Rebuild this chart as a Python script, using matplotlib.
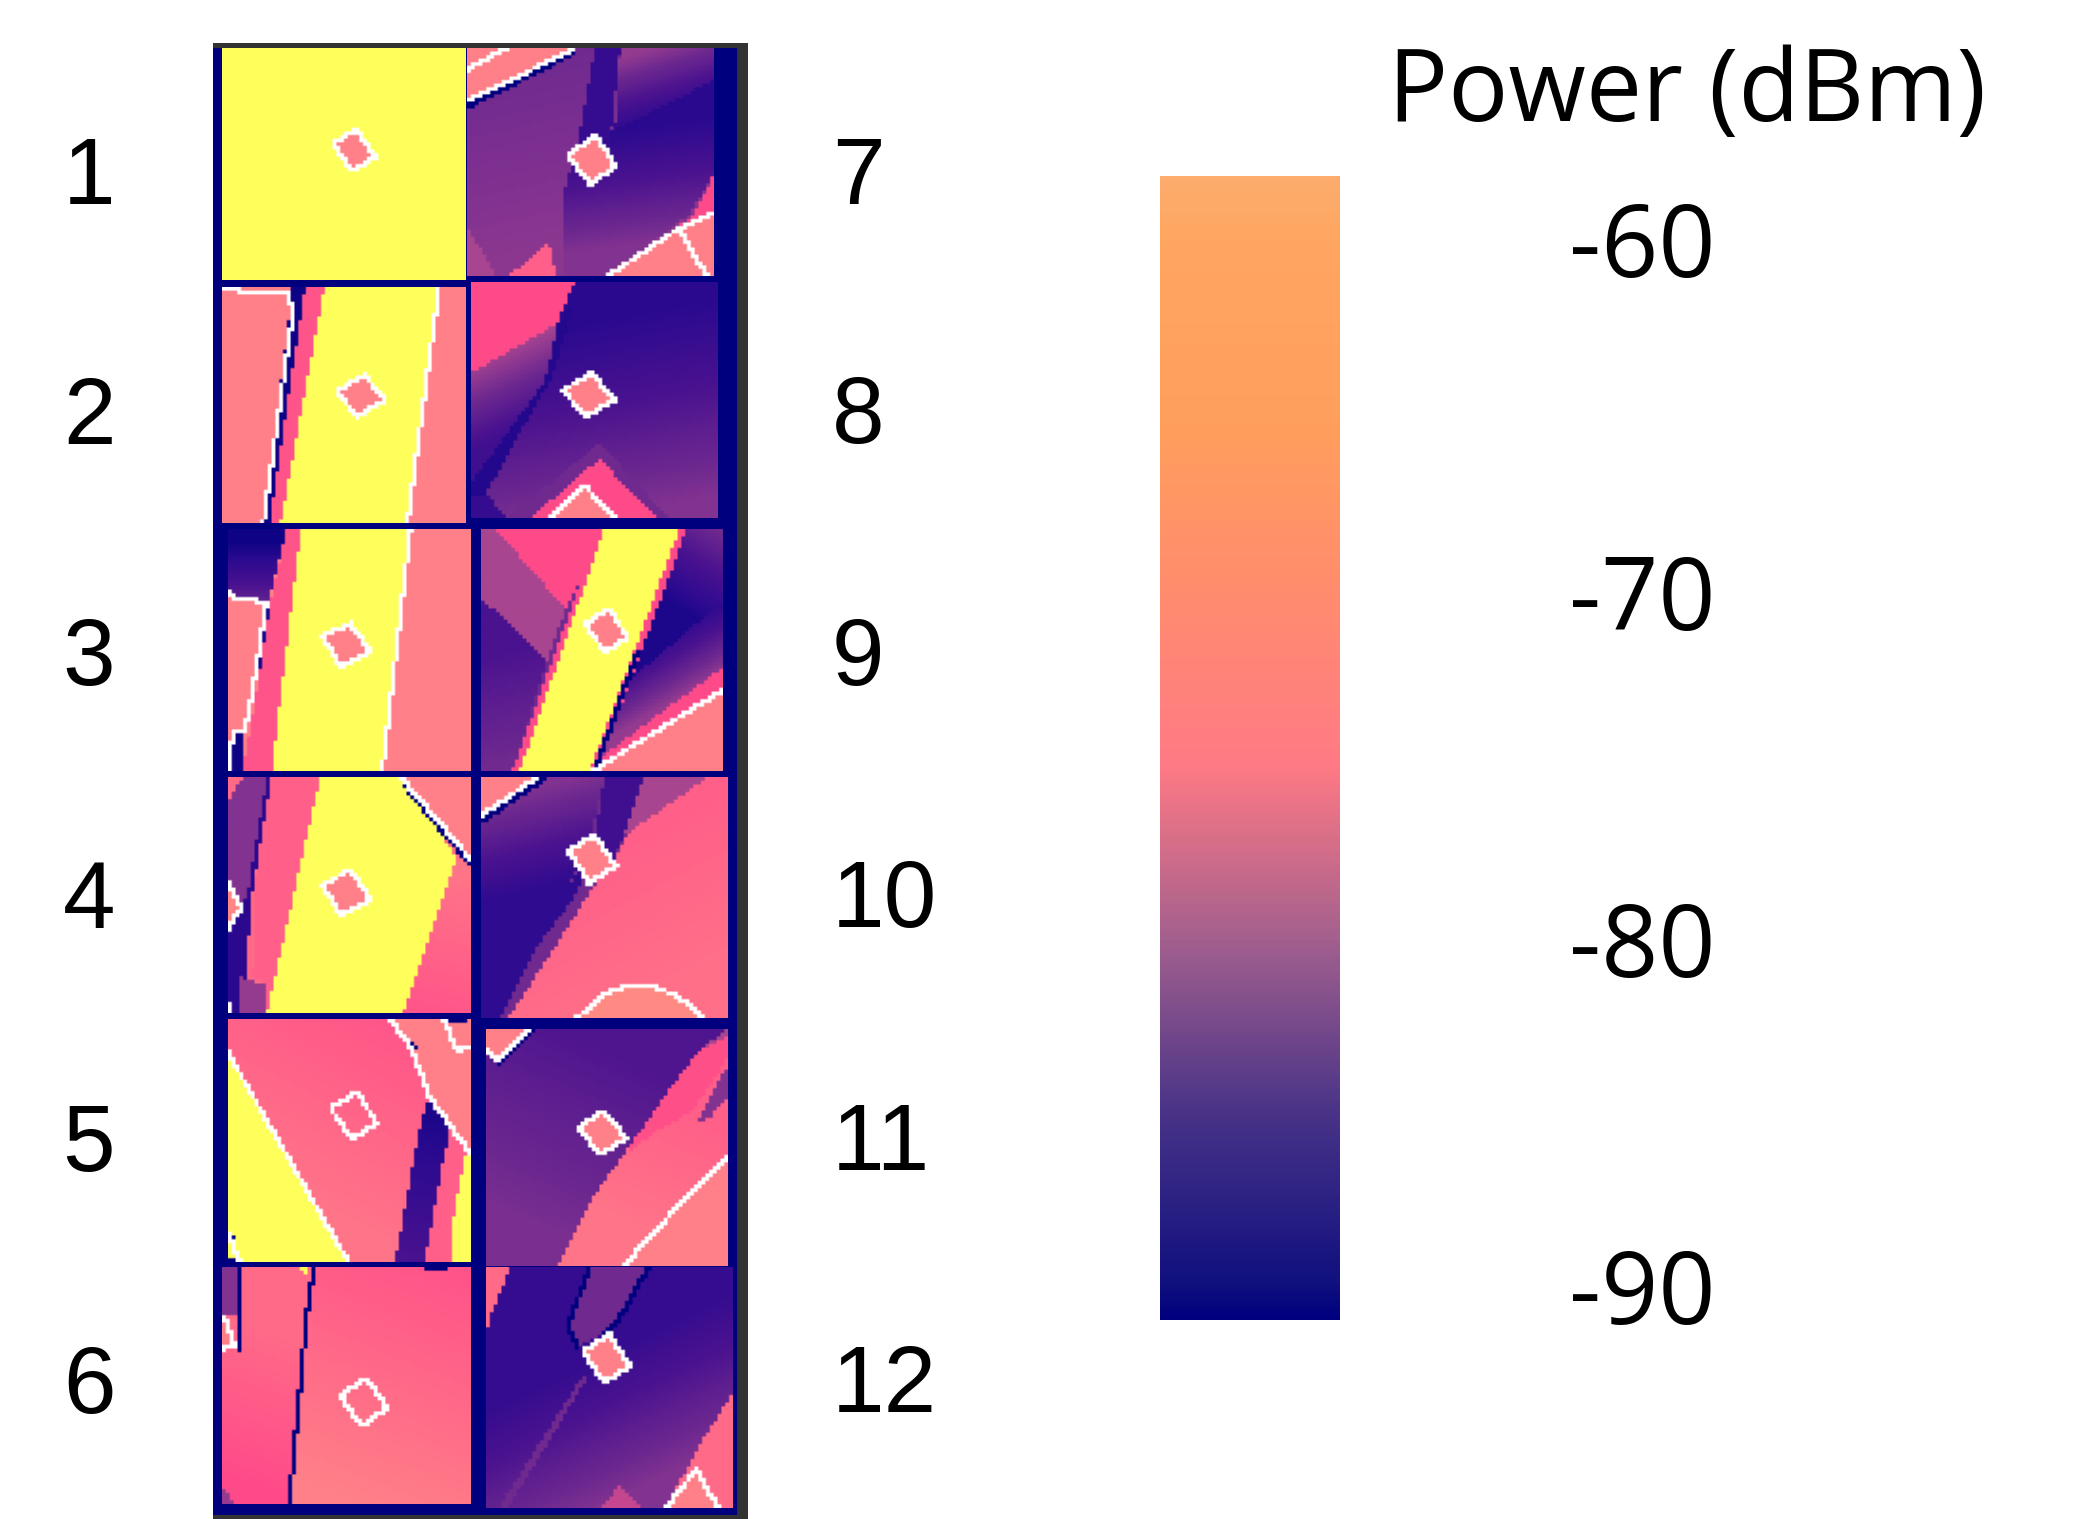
"""
Received power maps for 12 rooms, with a shared colour bar.
"""

import numpy as np
import matplotlib
matplotlib.use("Agg")
import matplotlib.pyplot as plt
from matplotlib.colors import LinearSegmentedColormap, Normalize
from matplotlib.patches import Rectangle
from matplotlib.path import Path

YELLOW = -40  # above the scale, saturated cells

POWER_STOPS = [-90, -87, -84, -81, -78, -75, -72, -70, -65, -60]
TILE_COLORS = ["#00007f", "#2b0a90", "#4a128f", "#702a90", "#a84590",
               "#ff4a8a", "#ff6a88", "#ff8088", "#ff9080", "#ffa060"]

BAR_STOPS = [-91, -90, -85, -80, -75, -70, -65, -60, -58]
BAR_COLORS = ["#00007f", "#10107f", "#4a3488", "#a4608e", "#ff7a85",
              "#ff8c6e", "#ff9f5c", "#ffa660", "#fdac6d"]
BAR_TICKS = [-90, -80, -70, -60]
BAR_TICK_POS = [-90, -80, -70, -59.8]

# regions are (points, value, end value, ramp), in percent of the tile
T1_REGIONS = [([(0, 0), (100, 0), (100, 100), (0, 100)], YELLOW, None, None)]
T1_WHITE = []
T1_NAVY = []
T1_ROOM = [(55, 35), (63, 47), (53.5, 53), (45.4, 41)]

T2_REGIONS = [
    ([(0, 0), (100, 0), (100, 100), (0, 100)], -70, None, None),
    ([(29, 0), (34, 0), (19.5, 100), (17, 100)], -89, None, None),
    ([(34, 0), (42, 0), (24, 100), (19.5, 100)], -74, None, None),
    ([(42, 0), (89, 0), (76, 100), (24, 100)], YELLOW, None, None),
]
T2_WHITE = [[(0, 1), (27.5, 3), (29, 11), (17, 100)], [(89, 0), (76, 100)]]
T2_NAVY = []
T2_ROOM = [(58.3, 37.4), (67, 48), (55, 55), (47.3, 43.8)]

T3_REGIONS = [
    ([(0, 0), (100, 0), (100, 100), (0, 100)], -70, None, None),
    ([(0, 0), (24, 0), (16, 33), (0, 27)], -89, -82, (10, 5, 10, 30)),
    ([(24, 0), (30, 0), (18, 100), (6, 100), (13, 60), (17, 33)], -74, None, None),
    ([(15, 30), (17, 33), (13, 60), (12, 60)], -88, None, None),
    ([(2, 84), (7, 84), (6, 100), (2, 100)], -89, None, None),
    ([(30, 0), (75, 0), (63.5, 100), (18, 100)], YELLOW, None, None),
    ([(0, 26.5), (15.7, 31), (7, 83), (1.8, 83), (1, 100), (0, 100)], -70, None, None),
]
T3_WHITE = [
    [(0, 26.5), (3, 28.6), (10, 29), (15.7, 31), (12.7, 51), (10.6, 64), (8.4, 76),
     (7, 83), (1.8, 83), (1, 100)],
    [(75, 0), (63.5, 100)],
]
T3_NAVY = []
T3_ROOM = [(50.3, 39), (58.8, 50.7), (46.6, 56.9), (38.8, 44.5)]

T4_REGIONS = [
    ([(0, 0), (100, 0), (100, 100), (0, 100)], -72, None, None),
    ([(0, 10), (6, 0), (18, 0), (11, 35), (8, 60), (0, 60)], -80, None, None),
    ([(16, 0), (18, 0), (10, 50), (6, 100), (0, 100), (0, 60), (8, 50)], -87, None, None),
    ([(5, 85), (16, 88), (16, 100), (5, 100)], -79, None, None),
    ([(18, 0), (38, 0), (16, 100), (16, 88), (10, 85), (12, 35)], -73, None, None),
    ([(38, 0), (71, 0), (94, 34), (72, 100), (16, 100)], YELLOW, None, None),
    ([(71, 0), (100, 0), (100, 35)], -70, None, None),
    ([(94, 34), (100, 35), (100, 100), (72, 100)], -71, -74, (95, 40, 80, 100)),
    ([(0, 45), (5.5, 55), (0, 65)], -68, None, None),
]
T4_WHITE = [[(71, 0), (100, 35)], [(0, 45), (5.5, 55), (0, 65)], [(0, 96), (0, 100)]]
T4_NAVY = [[(72, 3), (99, 36)]]
T4_ROOM = [(50.3, 39.4), (58.8, 52), (46.6, 58.5), (38.8, 45.8)]

T5_REGIONS = [
    ([(0, 0), (100, 0), (100, 100), (0, 100)], -74, -71, (80, 5, 40, 80)),
    ([(0, 14), (49.5, 100), (0, 100)], YELLOW, None, None),
    ([(66.5, 0), (100, 0), (100, 55), (91.5, 44), (83, 32), (75, 11)], -70, None, None),
    ([(82.6, 32), (91.5, 45.5), (88.5, 58), (81, 100), (68.7, 100), (78.4, 47)], -88, -84, (85, 40, 75, 100)),
    ([(91.5, 45.5), (99, 55), (97, 60), (92, 100), (81, 100), (88.5, 58)], -73, None, None),
    ([(97.4, 57), (100, 56), (100, 100), (92, 100), (93, 81)], YELLOW, None, None),
]
T5_WHITE = [
    [(0, 14), (49.5, 100)],
    [(66.5, 0), (75, 11), (83, 32), (91.5, 44), (99.6, 55)],
    [(89, 0), (94, 13), (100, 11)],
    [(0, 88), (5, 100)],
]
T5_NAVY = [[(75, 10), (77, 12)], [(92, 0), (97, 1)], [(0, 90), (2, 90)], [(1, 100), (6, 100)]]
T5_ROOM = [(53, 30), (61.3, 42.9), (51, 49.8), (42.2, 36.7)]

T6_REGIONS = [
    ([(0, 0), (100, 0), (100, 100), (0, 100)], -74, -70, (95, 5, 55, 100)),
    ([(0, 0), (36, 0), (27, 100), (0, 100)], -72, -75, (25, 30, 5, 90)),
    ([(0, 0), (7, 0), (7, 20), (0, 20)], -80, None, None),
    ([(0, 92), (5, 100), (0, 100)], -79, None, None),
    ([(31, 0), (35, 0), (34, 3)], YELLOW, None, None),
    ([(1, 21), (5.5, 34), (0, 34.5)], -70, None, None),
]
T6_WHITE = [[(1, 21), (5.5, 34), (0, 34.5)]]
T6_NAVY = [
    [(36.8, 0), (34, 21), (27, 100)],
    [(6.5, 0), (7, 35)],
    [(82, 0), (90, 0)],
]
T6_ROOM = [(58, 47), (66.5, 59.7), (56, 67), (47.4, 54)]

T7_REGIONS = [
    ([(0, 0), (100, 0), (100, 100), (0, 100)], -81, -79.5, (10, 10, 30, 90)),
    ([(62, 0), (100, 0), (100, 14), (60, 36)], -79, -87, (75, 0, 85, 30)),
    ([(39, 100), (39, 65), (45, 40), (60, 36), (100, 14), (100, 55), (90, 73), (57, 100)],
     -87, -80, (68, 35, 75, 85)),
    ([(52, 0), (62, 0), (58, 40), (45, 40)], -86, None, None),
    ([(100, 55), (92, 73), (57, 100), (100, 100)], -75, None, None),
    ([(57, 100), (86, 79), (100, 72), (100, 100)], -70, None, None),
    ([(0, 78), (12, 100), (0, 100)], -78, None, None),
    ([(17, 100), (33, 85), (36, 100)], -73, None, None),
    ([(0, 0), (43, 0), (0, 24)], -70, None, None),
]
T7_WHITE = [[(43, 0.7), (0, 23.4)], [(16, 0), (0, 9.5)],
            [(57, 100), (86, 79), (100, 72)], [(86, 79), (97, 100)]]
T7_NAVY = [[(43, 2), (0, 25)], [(42, 3), (0, 26)]]
T7_ROOM = [(51.7, 38), (60.4, 51.7), (50, 59.6), (41, 47.6)]

T8_REGIONS = [
    ([(0, 0), (100, 0), (100, 100), (0, 100)], -87, -80, (60, 15, 75, 95)),
    ([(0, 0), (42, 0), (35, 17.6), (0, 38.7)], -75, None, None),
    ([(0, 38.7), (35, 17.6), (30, 42), (0, 85)], -78, -85, (10, 30, 25, 60)),
    ([(35, 17.6), (42, 8), (33, 40), (22, 60), (6, 90), (0, 90), (0, 85), (30, 42)], -87.5, None, None),
    ([(0, 90), (6, 90), (15, 100), (0, 100)], -86, None, None),
    ([(52, 68), (80, 100), (15, 100)], -81, None, None),
    ([(52, 75), (75, 100), (24, 100)], -75, None, None),
    ([(45.6, 86), (58.7, 100), (32.6, 100)], -70, None, None),
]
T8_WHITE = [[(32.6, 100), (45.6, 86), (58.7, 100)]]
T8_NAVY = []
T8_ROOM = [(48.5, 38.7), (58.7, 50), (46, 57), (37.4, 45.8)]

T9_REGIONS = [
    ([(0, 0), (100, 0), (100, 100), (0, 100)], -81, None, None),
    ([(6, 0), (51, 0), (35, 33)], -75, None, None),
    ([(0, 0), (6, 0), (35, 33), (27, 55), (11, 38), (0, 29)], -78, None, None),
    ([(0, 29), (11, 38), (27, 55), (13, 100), (0, 100)], -84, -81, (5, 50, 15, 95)),
    ([(85, 0), (100, 0), (100, 30), (57, 66)], -81, -88, (97, 0, 78, 30)),
    ([(100, 30), (100, 57), (50, 94), (48, 100), (57, 66)], -88, -79, (75, 40, 90, 65)),
    ([(100, 57), (100, 66.5), (46, 100), (50, 94)], -75, None, None),
    ([(46, 100), (100, 66.5), (100, 100)], -70, None, None),
    ([(49, 0), (85, 0), (48, 100), (13, 100)], -75, None, None),
    ([(51, 0), (82, 0), (45, 100), (16, 100)], YELLOW, None, None),
]
T9_WHITE = [[(46, 100), (100, 66.5)]]
T9_NAVY = [[(65, 50), (48, 97)]]
T9_ROOM = [(53, 33), (60.6, 45), (51.3, 51), (43, 39)]

T10_REGIONS = [
    ([(0, 0), (100, 0), (100, 100), (0, 100)], -73, -71.5, (50, 30, 80, 85)),
    ([(0, 0), (23, 0), (0, 16)], -70, None, None),
    ([(0, 16), (23, 0), (92, 0), (60, 23), (54, 34), (45, 46), (31, 69), (11, 100), (0, 100)],
     -81, None, None),
    ([(0, 16), (23, 0), (50, 0), (43, 30), (35, 45), (25, 60), (0, 87)], -80, -86.5, (20, 5, 30, 45)),
    ([(0, 87), (25, 60), (35, 45), (43, 36), (38, 50), (23, 70), (8, 100), (0, 100)], -86.5, None, None),
    ([(50, 0), (66, 0), (58, 24), (54, 34), (43, 36), (47, 20)], -85, None, None),
    ([(66, 0), (92, 0), (60, 23), (58, 24)], -78, None, None),
    ([(39, 100), (49.3, 90), (59.5, 86.5), (69.6, 86.5), (78, 90.5), (85.4, 95), (90, 100)],
     -67, None, None),
]
T10_WHITE = [[(23, 0), (0, 16)],
             [(39, 100), (49.3, 90), (59.5, 86.5), (69.6, 86.5), (78, 90.5), (85.4, 95), (90, 100)]]
T10_NAVY = [[(25, 1), (1, 18)]]
T10_ROOM = [(45.7, 24), (54.7, 37), (43.8, 43.9), (35.5, 30.6)]

T11_REGIONS = [
    ([(0, 0), (100, 0), (100, 100), (0, 100)], -73, -71, (70, 30, 50, 80)),
    ([(0, 0), (100, 0), (88, 8.8), (72, 31), (59, 50), (44, 71), (29.5, 100), (0, 100)],
     -83.5, -80.5, (50, 10, 20, 80)),
    ([(88, 8.8), (100, 0), (100, 6)], -78, None, None),
    ([(88, 8.8), (100, 3), (100, 12), (85, 35), (72, 42), (59, 52), (59, 50), (72, 31)], -74.5, None, None),
    ([(100, 15), (87, 40), (92, 38), (100, 28)], -80, None, None),
    ([(0, 0), (17.4, 0), (4.7, 13.7), (0, 8)], -70, None, None),
    ([(100, 53.5), (77.4, 77), (56.8, 100), (100, 100)], -70, None, None),
]
T11_WHITE = [[(17.4, 0), (4.7, 13.7), (0, 8)], [(100, 53.5), (77.4, 77), (56.8, 100)]]
T11_NAVY = [[(5, 15), (20, 0)]]
T11_ROOM = [(48.7, 34.8), (58, 46), (47, 53), (38, 41.4)]

T12_REGIONS = [
    ([(0, 0), (100, 0), (100, 100), (0, 100)], -86, -80, (40, 40, 65, 90)),
    ([(0, 0), (10, 0), (2, 20), (0, 28)], -72, None, None),
    ([(42, 0), (66, 0), (53, 23), (47, 28), (37, 33), (33, 25)], -81, None, None),
    ([(39, 45.5), (41, 46), (9, 100), (5, 100)], -81, None, None),
    ([(100, 52), (87, 73), (72.5, 100), (100, 100)], -72, None, None),
    ([(47, 100), (54, 90), (63, 100)], -77, None, None),
    ([(85, 84), (94, 100), (73, 100)], -70, None, None),
]
T12_WHITE = [[(73, 100), (85, 84), (94, 100)]]
T12_NAVY = [[(42, 0), (33, 25), (37, 33)], [(66, 0), (53, 23), (47, 28)]]
T12_ROOM = [(50, 28), (58.4, 41), (48, 48), (39.3, 34.8)]

# rooms 5 and 6 only have the outline
HOLLOW_ROOMS = [5, 6]

ROOMS = [
    (T1_REGIONS, T1_WHITE, T1_NAVY, T1_ROOM),
    (T2_REGIONS, T2_WHITE, T2_NAVY, T2_ROOM),
    (T3_REGIONS, T3_WHITE, T3_NAVY, T3_ROOM),
    (T4_REGIONS, T4_WHITE, T4_NAVY, T4_ROOM),
    (T5_REGIONS, T5_WHITE, T5_NAVY, T5_ROOM),
    (T6_REGIONS, T6_WHITE, T6_NAVY, T6_ROOM),
    (T7_REGIONS, T7_WHITE, T7_NAVY, T7_ROOM),
    (T8_REGIONS, T8_WHITE, T8_NAVY, T8_ROOM),
    (T9_REGIONS, T9_WHITE, T9_NAVY, T9_ROOM),
    (T10_REGIONS, T10_WHITE, T10_NAVY, T10_ROOM),
    (T11_REGIONS, T11_WHITE, T11_NAVY, T11_ROOM),
    (T12_REGIONS, T12_WHITE, T12_NAVY, T12_ROOM),
]

# x0, x1, y0, y1 of each tile, in pixels of the figure
TILE_BOXES = [
    (222, 466, 48, 280), (222, 466, 287, 523), (228, 471, 529, 771),
    (228, 471, 777, 1013), (228, 471, 1019, 1262), (222, 471, 1267, 1504),
    (467, 714, 48, 276), (471, 718, 282, 518), (481, 723, 529, 771),
    (481, 728, 777, 1018), (486, 728, 1029, 1266), (486, 733, 1267, 1508),
]

LABEL_Y = [179, 419, 661, 903, 1146, 1388]

GRID = 64
WIDTH, HEIGHT = 2076, 1519

tile_cmap = LinearSegmentedColormap.from_list(
    "tile",
    [((p + 90) / 30, c) for p, c in zip(POWER_STOPS, TILE_COLORS)],
)
tile_cmap.set_over("#ffff5c")
tile_norm = Normalize(-90, -60)

bar_cmap = LinearSegmentedColormap.from_list(
    "bar",
    [((p + 91) / 33, c) for p, c in zip(BAR_STOPS, BAR_COLORS)],
)


def draw_line(image, points, color):
    for (x0, y0), (x1, y1) in zip(points[:-1], points[1:]):
        for t in np.linspace(0, 1, 200):
            col = int((x0 + (x1 - x0) * t) / 100 * GRID)
            row = int((y0 + (y1 - y0) * t) / 100 * GRID)
            image[min(row, GRID - 1), min(col, GRID - 1)] = color


def render_room(number, regions, white, navy, room):
    centers = (np.arange(GRID) + 0.5) / GRID * 100
    xx, yy = np.meshgrid(centers, centers)
    cells = np.column_stack([xx.ravel(), yy.ravel()])
    power = np.full(GRID * GRID, -80.0)

    for points, value, end, ramp in regions:
        inside = Path(points + [points[0]]).contains_points(cells)
        if end is None:
            power[inside] = value
        else:
            ax_, ay_, bx_, by_ = ramp
            dx, dy = bx_ - ax_, by_ - ay_
            t = ((cells[:, 0] - ax_) * dx + (cells[:, 1] - ay_) * dy) / (dx * dx + dy * dy)
            power[inside] = (value + (end - value) * np.clip(t, 0, 1))[inside]

    if number not in HOLLOW_ROOMS:
        power[Path(room + [room[0]]).contains_points(cells)] = -70

    image = tile_cmap(tile_norm(power.reshape(GRID, GRID)))[:, :, :3]

    for line in navy:
        draw_line(image, line, (0, 0, 0.5))
    for line in white:
        draw_line(image, line, (1, 1, 1))
    draw_line(image, room + [room[0]], (1, 1, 1))
    return image


fig = plt.figure(figsize=(WIDTH / 100, HEIGHT / 100), dpi=100)
ax = fig.add_axes([0, 0, 1, 1])
ax.set_xlim(0, WIDTH)
ax.set_ylim(HEIGHT, 0)
ax.axis("off")

ax.add_patch(Rectangle((213, 43), 535, 1476, color="#333333", lw=0))
ax.add_patch(Rectangle((213, 48), 524, 1467, color="#00007f", lw=0))

for i, (box, room_data) in enumerate(zip(TILE_BOXES, ROOMS)):
    image = render_room(i + 1, *room_data)
    sharp = np.repeat(np.repeat(image, 2, axis=0), 2, axis=1)
    ax.imshow(
        sharp,
        extent=(box[0], box[1], box[3], box[2]),
        interpolation="bilinear",
        aspect="auto",
        zorder=2,
    )
ax.set_xlim(0, WIDTH)
ax.set_ylim(HEIGHT, 0)

for i, y in enumerate(LABEL_Y):
    ax.text(89, y, str(i + 1), fontsize=68, family="Liberation Sans",
            ha="center", va="center")
    ax.text(832, y, str(i + 7), fontsize=68, family="Liberation Sans",
            ha="left", va="center")

ax.text(1388, 95, "Power (dBm)", fontsize=72, family="Open Sans",
        ha="left", va="center")

# colour bar
bar_ax = fig.add_axes([1160 / WIDTH, 1 - 1320 / HEIGHT, 180 / WIDTH, 1144 / HEIGHT])
levels = np.linspace(-58, -91, 256).reshape(-1, 1)
bar_ax.imshow(
    levels,
    cmap=bar_cmap,
    vmin=-91,
    vmax=-58,
    extent=(0, 1, -91, -58),
    aspect="auto",
)
bar_ax.set_xticks([])
bar_ax.yaxis.tick_right()
bar_ax.set_yticks(BAR_TICK_POS)
bar_ax.set_yticklabels([str(t) for t in BAR_TICKS], fontsize=72, family="Open Sans")
bar_ax.tick_params(axis="y", length=0, pad=165)
for spine in bar_ax.spines.values():
    spine.set_visible(False)

fig.savefig("out.png", dpi=100)
plt.close(fig)
